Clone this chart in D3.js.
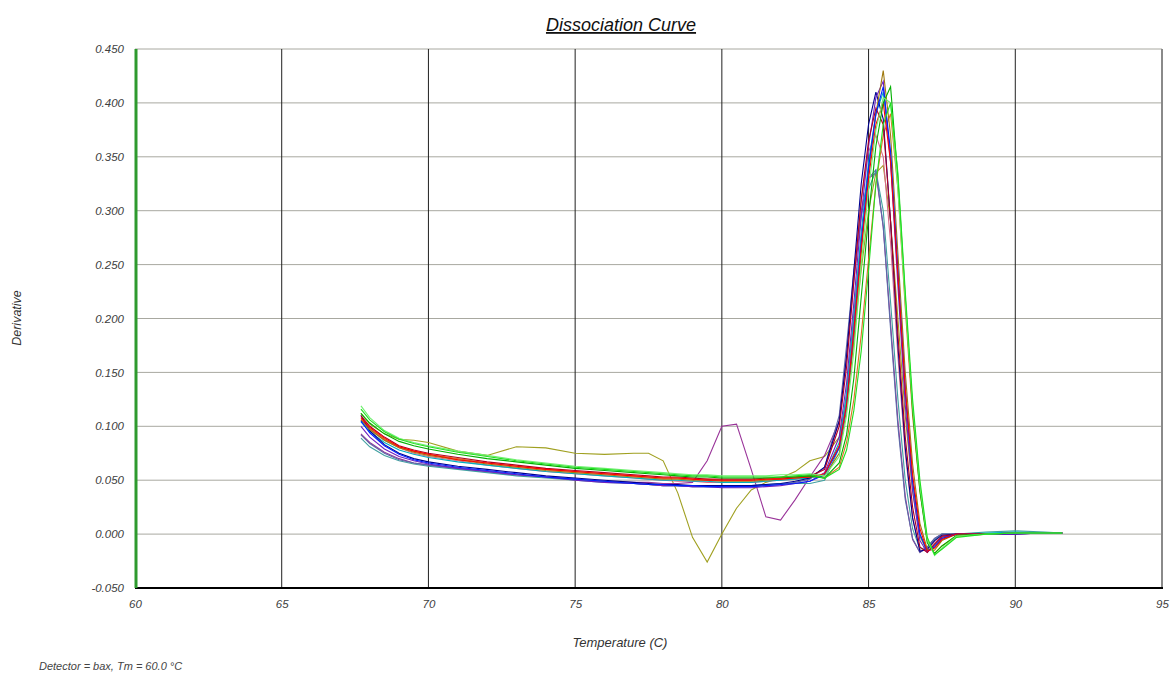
<!DOCTYPE html>
<html>
<head>
<meta charset="utf-8">
<script src="https://cdn.jsdelivr.net/npm/d3@7"></script>
<style>
  html, body { margin: 0; padding: 0; background: #fff; }
  svg { display: block; font-family: "Liberation Sans", Arial, sans-serif; }
</style>
</head>
<body>
<svg id="chart" width="1170" height="673"></svg>
<script>
// Melt temperatures (°C) shared by every well
const temps = [67.7, 68, 68.5, 69, 69.5, 70, 71, 72, 73, 74, 75, 76, 77, 77.5, 78, 78.5, 79, 79.5, 80, 80.5,
  81, 81.5, 82, 82.5, 83, 83.5, 84, 84.25, 84.5, 84.75, 85, 85.25, 85.5, 85.75, 86, 86.25, 86.5, 86.75, 87,
  87.25, 87.5, 88, 89, 90, 91, 91.6];

// Derivative readings per well (null = no reading)
const wellRed = [0.108,0.099,0.089,0.081,0.077,0.074,0.069,0.066,0.063,0.060,0.058,0.056,0.054,0.053,0.052,0.052,0.051,0.050,0.050,0.050,0.050,0.051,0.051,0.052,0.053,
  0.056,0.082,0.12,0.19,0.265,0.33,0.38,0.40,0.345,0.24,0.135,0.055,0.005,-0.016,-0.013,-0.005,0.0,
  0.0,null,null,null];
const wellDarkRed = [0.110,0.100,0.090,0.082,0.078,0.075,0.071,0.067,0.064,0.061,0.059,0.057,0.055,0.054,0.053,0.053,0.052,0.051,0.051,0.051,0.051,0.052,0.052,0.053,0.054,
  0.06,0.10,0.155,0.235,0.31,0.365,0.395,0.38,0.29,0.185,0.09,0.025,-0.012,-0.017,-0.009,-0.002,0.0,
  0.0,0.001,0.001,0.001];
const wellBlue = [0.105,0.094,0.082,0.074,0.069,0.066,0.062,0.059,0.056,0.053,0.051,0.049,0.047,0.046,0.046,0.045,0.045,0.044,0.044,0.044,0.044,0.045,0.046,0.047,0.049,
  0.055,0.08,0.12,0.19,0.27,0.34,0.39,0.415,0.355,0.245,0.135,0.05,0.0,-0.016,-0.012,-0.004,0.0,
  0.0,0.001,0.001,0.001];
const wellNavy = [0.110,0.096,0.083,0.075,0.070,0.067,0.063,0.060,0.057,0.054,0.052,0.050,0.048,0.047,0.046,0.046,0.045,0.045,0.045,0.045,0.045,0.046,0.047,0.049,0.052,
  0.062,0.105,0.165,0.245,0.325,0.38,0.41,0.385,0.29,0.175,0.08,0.015,-0.016,-0.014,-0.006,-0.001,0.0,
  0.0,0.0,0.001,0.001];
const wellGreen = [0.112,0.103,0.093,0.086,0.082,0.079,0.074,0.070,0.067,0.064,0.061,0.059,0.057,0.056,0.055,0.054,0.053,0.053,0.052,0.052,0.052,0.052,0.053,0.053,0.054,
  0.052,0.066,0.092,0.145,0.22,0.295,0.36,0.40,0.415,0.33,0.22,0.115,0.04,-0.008,-0.018,-0.011,-0.001,
  0.0,0.001,0.001,0.001];
const wellLime = [0.116,0.106,0.095,0.088,0.084,0.081,0.076,0.072,0.068,0.065,0.062,0.060,0.058,0.057,0.056,0.055,0.054,0.054,0.053,0.053,0.053,0.053,0.053,0.054,0.055,
  0.052,0.06,0.078,0.115,0.17,0.245,0.325,0.38,0.40,0.335,0.225,0.125,0.05,-0.003,-0.019,-0.014,-0.003,
  0.0,0.001,0.001,0.001];
const wellLightGreen = [0.119,0.108,0.096,0.089,0.085,0.082,0.077,0.073,0.069,0.066,0.063,0.061,0.059,0.058,0.057,0.056,0.055,0.055,0.054,0.054,0.054,0.054,0.055,0.055,0.056,
  0.054,0.072,0.11,0.17,0.25,0.32,0.375,0.405,0.40,0.32,0.215,0.12,0.045,-0.005,-0.02,-0.013,-0.002,
  0.0,0.001,0.001,0.001];
const wellOlive = [0.112,0.102,0.093,0.088,0.087,0.085,0.077,0.073,0.081,0.080,0.075,0.074,0.075,0.075,0.068,0.038,-0.003,-0.026,0.0,0.024,0.041,0.048,0.052,0.058,0.068,
  0.072,0.09,0.125,0.18,0.245,0.30,0.335,0.342,0.29,0.20,0.11,0.04,-0.002,-0.016,-0.01,-0.003,0.0,
  0.0,0.001,0.001,0.001];
const wellBrown = [0.106,0.097,0.087,0.080,0.076,0.073,0.069,0.065,0.062,0.059,0.057,0.055,0.053,0.052,0.051,0.051,0.050,0.050,0.049,0.049,0.049,0.050,0.051,0.052,0.053,
  0.054,0.075,0.115,0.18,0.26,0.335,0.39,0.43,0.37,0.26,0.15,0.065,0.01,-0.014,-0.015,-0.006,0.0,
  0.0,0.001,0.001,0.001];
const wellPurple = [0.093,0.085,0.076,0.070,0.066,0.064,0.061,0.058,0.055,0.053,0.051,0.049,0.048,0.048,0.047,0.047,0.048,0.068,0.100,0.102,0.060,0.016,0.013,0.032,0.053,
  0.073,0.105,0.165,0.235,0.295,0.33,0.335,0.285,0.195,0.105,0.035,-0.005,-0.017,-0.012,-0.004,0.0,0.0,
  0.0,0.0,0.001,0.001];
const wellTeal = [0.089,0.081,0.073,0.068,0.065,0.063,0.060,0.057,0.054,0.052,0.050,0.048,0.047,0.046,0.045,0.045,0.044,0.044,0.044,0.044,0.045,0.046,0.047,0.047,0.047,
  0.05,0.08,0.13,0.205,0.275,0.32,0.337,0.30,0.215,0.125,0.05,0.005,-0.014,-0.012,-0.005,0.0,0.0,
  0.002,0.003,0.002,0.001];
const wellCyan = [0.104,0.095,0.085,0.078,0.074,0.071,0.067,0.064,0.061,0.058,0.056,0.054,0.052,0.051,0.050,0.050,0.049,0.049,0.048,0.048,0.048,0.049,0.050,0.051,0.052,
  0.055,0.085,0.13,0.20,0.28,0.345,0.39,0.41,0.35,0.24,0.13,0.048,0.0,-0.016,-0.011,-0.004,0.0,
  0.001,0.002,0.001,0.001];
const wellOrange = [0.107,0.098,0.088,0.081,0.077,0.074,0.070,0.066,0.063,0.060,0.058,0.056,0.054,0.053,0.052,0.052,0.051,0.051,0.050,0.050,0.050,0.051,0.052,0.053,0.054,
  0.052,0.062,0.085,0.125,0.185,0.255,0.325,0.37,0.39,0.32,0.21,0.11,0.04,-0.006,-0.018,-0.011,-0.002,
  0.0,0.001,0.001,0.001];
const wellPink = [0.106,0.097,0.087,0.080,0.075,0.072,0.068,0.064,0.061,0.058,0.056,0.054,0.052,0.051,0.050,0.049,0.049,0.048,0.048,0.048,0.048,0.049,0.050,0.051,0.053,
  0.06,0.105,0.165,0.24,0.31,0.355,0.37,0.35,0.27,0.165,0.075,0.015,-0.015,-0.015,-0.007,-0.001,0.0,
  0.0,0.001,0.001,0.001];
const wellViolet = [0.100,0.090,0.079,0.072,0.068,0.065,0.061,0.058,0.055,0.053,0.050,0.048,0.047,0.046,0.045,0.045,0.044,0.044,0.043,0.043,0.043,0.044,0.045,0.047,0.049,
  0.057,0.09,0.14,0.215,0.295,0.36,0.405,0.42,0.345,0.23,0.12,0.04,-0.006,-0.017,-0.01,-0.003,0.0,
  0.0,0.0,0.001,0.001];
const wellSteel = [0.092,0.084,0.075,0.069,0.066,0.064,0.061,0.058,0.055,0.053,0.051,0.049,0.047,0.046,0.045,0.045,0.044,0.044,0.044,0.044,0.044,0.045,0.046,0.048,0.051,
  0.062,0.11,0.175,0.245,0.30,0.33,0.338,0.285,0.19,0.10,0.032,-0.004,-0.017,-0.012,-0.004,0.0,0.0,
  0.0,0.0,0.001,0.001];

const wells = [
  { values: wellOlive, color: "#a0a020" },
  { values: wellPurple, color: "#993399" },
  { values: wellTeal, color: "#40a0a0" },
  { values: wellSteel, color: "#5a6aa8" },
  { values: wellPink, color: "#d86a8a" },
  { values: wellOrange, color: "#e07020" },
  { values: wellCyan, color: "#00b0c0" },
  { values: wellNavy, color: "#000090" },
  { values: wellViolet, color: "#7020c0" },
  { values: wellBrown, color: "#a07a10" },
  { values: wellDarkRed, color: "#b00020" },
  { values: wellBlue, color: "#0020ff" },
  { values: wellRed, color: "#ff0000" },
  { values: wellGreen, color: "#00b000" },
  { values: wellLightGreen, color: "#70f070" },
  { values: wellLime, color: "#20e020" }
];

const xTicks = [60, 65, 70, 75, 80, 85, 90, 95];
const yTicks = [-0.05, 0, 0.05, 0.1, 0.15, 0.2, 0.25, 0.3, 0.35, 0.4, 0.45];

const plotLeft = 135, plotRight = 1162, plotTop = 49, plotBottom = 588;
const svg = d3.select("#chart");

const x = d3.scaleLinear().domain([60, 95]).range([plotLeft, plotRight]);
const y = d3.scaleLinear().domain([-0.05, 0.45]).range([plotBottom, plotTop]);

// horizontal grid
svg.append("g").selectAll("line").data(yTicks.filter(v => v > -0.05)).join("line")
  .attr("x1", plotLeft).attr("x2", plotRight)
  .attr("y1", d => y(d)).attr("y2", d => y(d))
  .attr("stroke", "#a8a8a0").attr("stroke-width", 1);

// vertical grid
svg.append("g").selectAll("line").data(xTicks.filter(v => v > 60 && v < 95)).join("line")
  .attr("x1", d => x(d)).attr("x2", d => x(d))
  .attr("y1", plotTop).attr("y2", plotBottom)
  .attr("stroke", "#202020").attr("stroke-width", 1);

// right border
svg.append("line").attr("x1", x(95)).attr("x2", x(95)).attr("y1", plotTop).attr("y2", plotBottom)
  .attr("stroke", "#8a8a8a").attr("stroke-width", 2);

// curves
svg.append("defs").append("clipPath").attr("id", "plot")
  .append("rect").attr("x", plotLeft).attr("y", plotTop).attr("width", plotRight - plotLeft).attr("height", plotBottom - plotTop);

const line = d3.line()
  .defined(d => d[1] != null)
  .x(d => x(d[0]))
  .y(d => y(d[1]));

svg.append("g").attr("clip-path", "url(#plot)")
  .selectAll("path").data(wells).join("path")
  .attr("fill", "none")
  .attr("stroke", d => d.color)
  .attr("stroke-width", 1.1)
  .attr("stroke-linejoin", "miter")
  .attr("d", d => line(temps.map((t, i) => [t, d.values[i]])));

// bottom axis line
svg.append("line").attr("x1", plotLeft).attr("x2", plotRight + 1).attr("y1", plotBottom).attr("y2", plotBottom)
  .attr("stroke", "#000").attr("stroke-width", 2);

// green baseline marker at 60 °C
svg.append("line").attr("x1", x(60) + 1).attr("x2", x(60) + 1).attr("y1", plotTop).attr("y2", plotBottom)
  .attr("stroke", "#2e9a2e").attr("stroke-width", 3);

// axis tick labels (plain hyphen for negatives)
const fmt3 = d3.format(".3f");
const yAxis = d3.axisLeft(y).tickValues(yTicks).tickFormat(d => fmt3(d).replace("\u2212", "-"))
  .tickSize(0).tickPadding(11);
svg.append("g").attr("transform", `translate(${plotLeft},0)`).call(yAxis)
  .call(g => g.select(".domain").remove())
  .selectAll("text")
  .style("font-family", "'Liberation Sans', Arial, sans-serif")
  .style("font-size", "11.5px").style("font-style", "italic").attr("fill", "#404040");

const xAxis = d3.axisBottom(x).tickValues(xTicks).tickFormat(d3.format("d")).tickSize(0).tickPadding(12);
svg.append("g").attr("transform", `translate(0,${plotBottom})`).call(xAxis)
  .call(g => g.select(".domain").remove())
  .selectAll("text")
  .style("font-family", "'Liberation Sans', Arial, sans-serif")
  .style("font-size", "11.5px").style("font-style", "italic").attr("fill", "#404040");

// title
svg.append("text").attr("x", 621).attr("y", 31).attr("text-anchor", "middle")
  .style("font-size", "18px").style("font-style", "italic").style("text-decoration", "underline")
  .attr("fill", "#111").text("Dissociation Curve");

svg.append("text").attr("transform", "translate(21,318) rotate(-90)").attr("text-anchor", "middle")
  .style("font-size", "12.5px").style("font-style", "italic").attr("fill", "#333").text("Derivative");

svg.append("text").attr("x", 620).attr("y", 647).attr("text-anchor", "middle")
  .style("font-size", "13px").style("font-style", "italic").attr("fill", "#333").text("Temperature (C)");

svg.append("text").attr("x", 39).attr("y", 670)
  .style("font-size", "11px").style("font-style", "italic").attr("fill", "#444").text("Detector = bax, Tm = 60.0 °C");
</script>
</body>
</html>
